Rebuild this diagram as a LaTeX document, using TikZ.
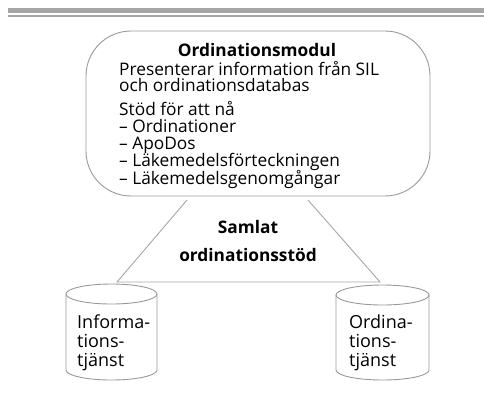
\documentclass[tikz,border=0pt]{standalone}
\usepackage{fontspec}
\setmainfont{Open Sans}
\begin{document}
\begin{tikzpicture}[x=1pt,y=-1pt,
  outl/.style={draw=black!40,line width=0.9pt},
  conn/.style={draw=black!35,line width=0.9pt},
  txt/.style={inner sep=0pt,anchor=base west,font=\fontsize{17.3}{19}\selectfont},
  ctxt/.style={inner sep=0pt,anchor=base west,font=\fontsize{18}{19}\selectfont},
  ttl/.style={inner sep=0pt,anchor=base,font=\fontsize{17.3}{19}\selectfont\bfseries},
]
\useasboundingbox (0,0) rectangle (484,397);
% top bars
\fill[black!35] (8,7.5) rectangle (484,12.7);
\fill[black!35] (8,14.7) rectangle (484,16.7);
% module box
\draw[outl,rounded corners=45pt] (86,31) rectangle (430,196);
\node[ttl] (title) at (257,56) {Ordinationsmodul};
\node[txt] (l1) at (119,75) {Presenterar information från SIL};
\node[txt] (l2) at (119,91) {och ordinationsdatabas};
\node[txt] (l3) at (119,115) {Stöd för att nå};
\node[txt] (l4) at (119,132) {– Ordinationer};
\node[txt] (l5) at (119,149) {– ApoDos};
\node[txt] (l6) at (119,166.5) {– Läkemedelsförteckningen};
\node[txt] (l7) at (119,184) {– Läkemedelsgenomgångar};
% middle label
\node[ttl] (s1) at (248,233) {Samlat};
\node[ttl] (s2) at (248,261) {ordinationsstöd};
% connectors
\coordinate (a1) at (187,200);
\coordinate (a2) at (117,282);
\coordinate (b1) at (308,200);
\coordinate (b2) at (380,282);
\draw[conn] (a1) -- (a2) -- (b2) -- (b1);
% left cylinder
\draw[outl] (111.5,294) ellipse[x radius=45.5, y radius=10];
\draw[outl] (66,294) -- (66,370) arc[start angle=180,end angle=0,x radius=45.5,y radius=10] -- (157,294);
\node[ctxt] (c1a) at (77,328) {Informa-};
\node[ctxt] (c1b) at (77,347) {tions-};
\node[ctxt] (c1c) at (77,366) {tjänst};
% right cylinder
\draw[outl] (382.5,295) ellipse[x radius=46.5, y radius=10];
\draw[outl] (336,295) -- (336,370) arc[start angle=180,end angle=0,x radius=46.5,y radius=10] -- (429,295);
\node[ctxt] (c2a) at (349,328) {Ordina-};
\node[ctxt] (c2b) at (349,347) {tions-};
\node[ctxt] (c2c) at (349,366) {tjänst};
\end{tikzpicture}
\end{document}
